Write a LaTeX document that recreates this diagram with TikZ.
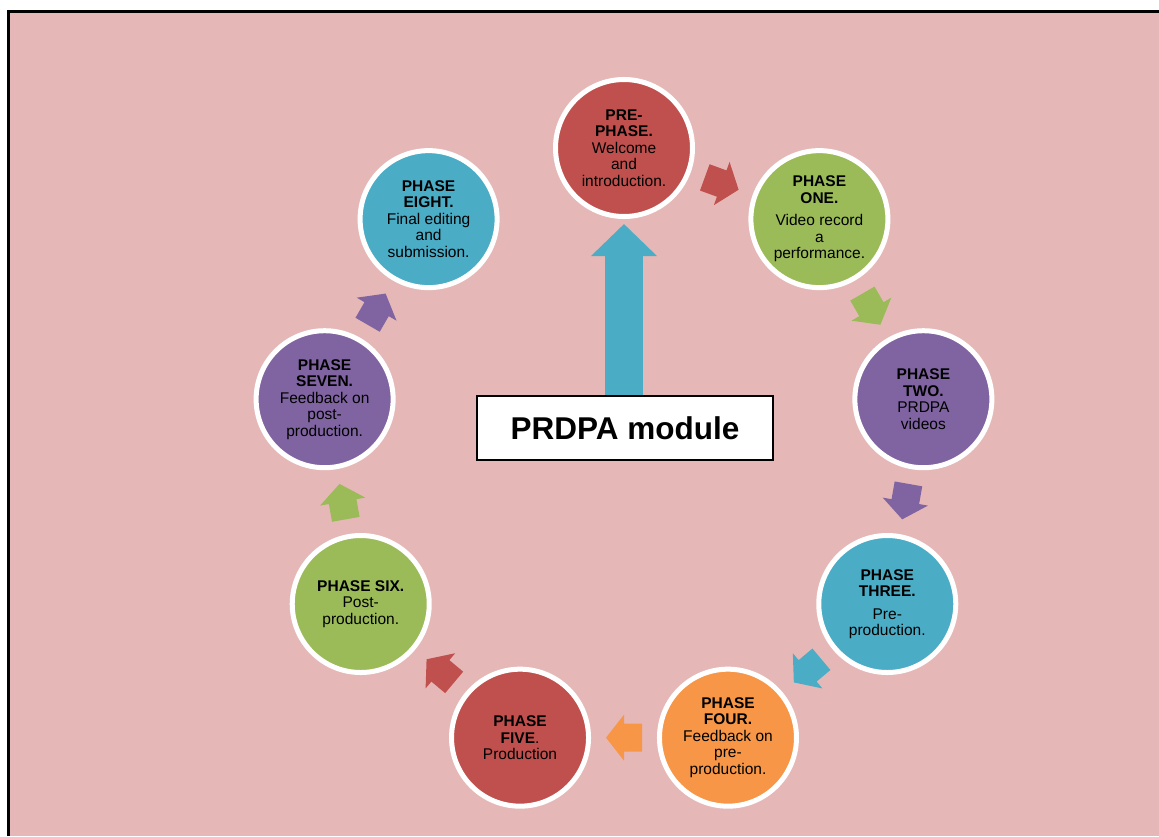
\documentclass[tikz,border=0pt]{standalone}
\usepackage{fontspec}
\setmainfont{Liberation Sans}
\usetikzlibrary{calc,arrows.meta}
\definecolor{bgpink}{HTML}{E5B8B7}
\definecolor{cred}{HTML}{C0504D}
\definecolor{cgreen}{HTML}{9BBB59}
\definecolor{cpurple}{HTML}{8064A2}
\definecolor{cblue}{HTML}{4BACC6}
\definecolor{corange}{HTML}{F79646}
\begin{document}
\begin{tikzpicture}[x=1pt,y=-1pt,
  phase/.style={circle, minimum size=137pt, inner sep=0pt, draw=white,
    line width=5pt, align=center, text=black,
    font=\fontsize{15.5}{16.5}\selectfont},
  titlebox/.style={draw=black, line width=1.5pt, fill=white,
    minimum width=296pt, minimum height=64pt, inner sep=0pt,
    font=\bfseries\fontsize{31.5}{36}\selectfont},
  cyclearrow/.pic={\fill[#1] (-18,-14) -- (0,-14) -- (0,-23) -- (18,0)
    -- (0,23) -- (0,14) -- (-18,14) -- cycle;}
]
% page and frame
\fill[white] (0,0) rectangle (1159,836);
\useasboundingbox (0,0) rectangle (1159,836);
\fill[bgpink] (8.5,11.3) rectangle (1159,836);
\draw[line width=2.7pt] (8.5,836) -- (8.5,11.3) -- (1159,11.3);

% nine phases on a ring around (624,452)
\def\ringx#1{{624+304*cos(#1)}}
\def\ringy#1{{452-304*sin(#1)}}
\node[phase, fill=cred] (p0) at (\ringx{90},\ringy{90})
  {\textbf{PRE-}\\\textbf{PHASE.}\\Welcome\\and\\introduction.};
\node[phase, fill=cgreen] (p1) at (\ringx{50},\ringy{50})
  {\textbf{PHASE}\\\textbf{ONE.}\\[6pt]Video record\\a\\performance.};
\node[phase, fill=cpurple] (p2) at (\ringx{10},\ringy{10})
  {\textbf{PHASE}\\\textbf{TWO.}\\PRDPA\\videos};
\node[phase, fill=cblue] (p3) at (\ringx{-30},\ringy{-30})
  {\textbf{PHASE}\\\textbf{THREE.}\\[6pt]Pre-\\production.};
\node[phase, fill=corange] (p4) at (\ringx{-70},\ringy{-70})
  {\textbf{PHASE}\\\textbf{FOUR.}\\Feedback on\\pre-\\production.};
\node[phase, fill=cred] (p5) at (\ringx{-110},\ringy{-110})
  {\textbf{PHASE}\\\textbf{FIVE}.\\Production};
\node[phase, fill=cgreen] (p6) at (\ringx{-150},\ringy{-150})
  {\textbf{PHASE SIX.}\\Post-\\production.};
\node[phase, fill=cpurple] (p7) at (\ringx{170},\ringy{170})
  {\textbf{PHASE}\\\textbf{SEVEN.}\\Feedback on\\post-\\production.};
\node[phase, fill=cblue] (p8) at (\ringx{130},\ringy{130})
  {\textbf{PHASE}\\\textbf{EIGHT.}\\Final editing\\and\\submission.};

% block arrows halfway between neighbouring phases
\foreach \i/\j/\c in {0/1/cred, 1/2/cgreen, 2/3/cpurple, 3/4/cblue,
                      4/5/corange, 5/6/cred, 6/7/cgreen, 7/8/cpurple}
  \pic[rotate={-20-40*\i}] at ($(p\i)!0.5!(p\j)$) {cyclearrow=\c};

% title box and the arrow up to the first phase
\node[titlebox] (box) at (625,428) {PRDPA module};
\coordinate (tip) at (624,224);
\draw[cblue, line width=38pt,
  -{Triangle[width=64pt, length=32pt]}] (box.north -| tip) -- (tip);
\end{tikzpicture}
\end{document}
